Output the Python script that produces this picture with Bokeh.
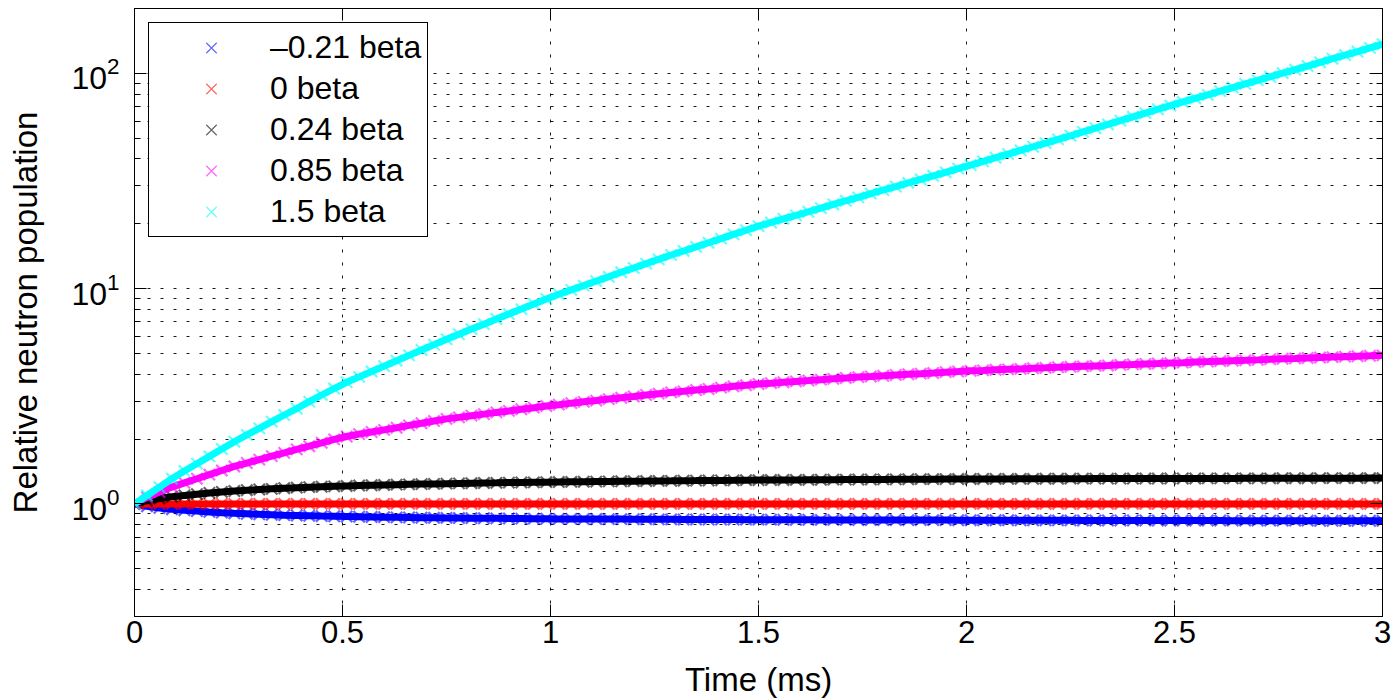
from bokeh.plotting import figure
from bokeh.models import (FixedTicker, LinearAxis, LogAxis, CustomJSTickFormatter,
                          Legend, LegendItem, LogTickFormatter, CustomLabelingPolicy)
from bokeh.embed import file_html
from bokeh.resources import INLINE

# ---------------- data ----------------
time_ms = [
    0.00, 0.03, 0.06, 0.09, 0.12, 0.15, 0.18, 0.21, 0.24, 0.27,
    0.30, 0.33, 0.36, 0.39, 0.42, 0.45, 0.48, 0.51, 0.54, 0.57,
    0.60, 0.63, 0.66, 0.69, 0.72, 0.75, 0.78, 0.81, 0.84, 0.87,
    0.90, 0.93, 0.96, 0.99, 1.02, 1.05, 1.08, 1.11, 1.14, 1.17,
    1.20, 1.23, 1.26, 1.29, 1.32, 1.35, 1.38, 1.41, 1.44, 1.47,
    1.50, 1.53, 1.56, 1.59, 1.62, 1.65, 1.68, 1.71, 1.74, 1.77,
    1.80, 1.83, 1.86, 1.89, 1.92, 1.95, 1.98, 2.01, 2.04, 2.07,
    2.10, 2.13, 2.16, 2.19, 2.22, 2.25, 2.28, 2.31, 2.34, 2.37,
    2.40, 2.43, 2.46, 2.49, 2.52, 2.55, 2.58, 2.61, 2.64, 2.67,
    2.70, 2.73, 2.76, 2.79, 2.82, 2.85, 2.88, 2.91, 2.94, 2.97,
    3.00,
]

pop_m021 = [
    1.000, 0.975, 0.958, 0.945, 0.935, 0.926, 0.918, 0.911, 0.905, 0.900,
    0.895, 0.891, 0.887, 0.884, 0.881, 0.878, 0.876, 0.874, 0.872, 0.870,
    0.868, 0.866, 0.865, 0.863, 0.862, 0.861, 0.860, 0.859, 0.858, 0.857,
    0.856, 0.855, 0.854, 0.853, 0.852, 0.852, 0.851, 0.851, 0.850, 0.850,
    0.849, 0.849, 0.848, 0.848, 0.847, 0.847, 0.846, 0.846, 0.846, 0.845,
    0.845, 0.845, 0.844, 0.844, 0.844, 0.843, 0.843, 0.843, 0.842, 0.842,
    0.842, 0.842, 0.841, 0.841, 0.841, 0.841, 0.840, 0.840, 0.840, 0.840,
    0.840, 0.839, 0.839, 0.839, 0.839, 0.839, 0.838, 0.838, 0.838, 0.838,
    0.838, 0.838, 0.837, 0.837, 0.837, 0.837, 0.837, 0.837, 0.836, 0.836,
    0.836, 0.836, 0.836, 0.836, 0.836, 0.835, 0.835, 0.835, 0.835, 0.835,
    0.835,
]

pop_0 = [
    1.0, 1.0, 1.0, 1.0, 1.0, 1.0, 1.0, 1.0, 1.0, 1.0,
    1.0, 1.0, 1.0, 1.0, 1.0, 1.0, 1.0, 1.0, 1.0, 1.0,
    1.0, 1.0, 1.0, 1.0, 1.0, 1.0, 1.0, 1.0, 1.0, 1.0,
    1.0, 1.0, 1.0, 1.0, 1.0, 1.0, 1.0, 1.0, 1.0, 1.0,
    1.0, 1.0, 1.0, 1.0, 1.0, 1.0, 1.0, 1.0, 1.0, 1.0,
    1.0, 1.0, 1.0, 1.0, 1.0, 1.0, 1.0, 1.0, 1.0, 1.0,
    1.0, 1.0, 1.0, 1.0, 1.0, 1.0, 1.0, 1.0, 1.0, 1.0,
    1.0, 1.0, 1.0, 1.0, 1.0, 1.0, 1.0, 1.0, 1.0, 1.0,
    1.0, 1.0, 1.0, 1.0, 1.0, 1.0, 1.0, 1.0, 1.0, 1.0,
    1.0, 1.0, 1.0, 1.0, 1.0, 1.0, 1.0, 1.0, 1.0, 1.0,
    1.0,
]

pop_024 = [
    1.000, 1.035, 1.060, 1.080, 1.095, 1.110, 1.125, 1.137, 1.148, 1.158,
    1.167, 1.175, 1.183, 1.190, 1.196, 1.202, 1.207, 1.212, 1.217, 1.221,
    1.225, 1.229, 1.233, 1.236, 1.239, 1.242, 1.245, 1.248, 1.251, 1.253,
    1.256, 1.258, 1.260, 1.262, 1.264, 1.266, 1.268, 1.270, 1.272, 1.274,
    1.276, 1.277, 1.279, 1.280, 1.282, 1.283, 1.285, 1.286, 1.287, 1.289,
    1.290, 1.291, 1.292, 1.293, 1.294, 1.295, 1.296, 1.297, 1.298, 1.299,
    1.300, 1.301, 1.302, 1.303, 1.303, 1.304, 1.305, 1.306, 1.306, 1.307,
    1.307, 1.308, 1.308, 1.309, 1.309, 1.310, 1.310, 1.311, 1.311, 1.311,
    1.312, 1.312, 1.312, 1.313, 1.313, 1.313, 1.314, 1.314, 1.314, 1.315,
    1.315, 1.315, 1.316, 1.316, 1.316, 1.317, 1.317, 1.317, 1.317, 1.318,
    1.318,
]

pop_085 = [
    1.000, 1.072, 1.135, 1.197, 1.253, 1.309, 1.368, 1.429, 1.493, 1.549,
    1.607, 1.667, 1.726, 1.791, 1.854, 1.923, 1.995, 2.056, 2.109, 2.158,
    2.208, 2.259, 2.317, 2.371, 2.427, 2.483, 2.523, 2.570, 2.612, 2.661,
    2.704, 2.754, 2.799, 2.851, 2.891, 2.938, 2.979, 3.020, 3.069, 3.112,
    3.155, 3.206, 3.251, 3.296, 3.334, 3.381, 3.420, 3.467, 3.516, 3.556,
    3.606, 3.639, 3.673, 3.707, 3.741, 3.776, 3.811, 3.846, 3.882, 3.908,
    3.936, 3.972, 4.000, 4.027, 4.055, 4.093, 4.121, 4.150, 4.169, 4.198,
    4.217, 4.236, 4.266, 4.285, 4.315, 4.335, 4.355, 4.375, 4.395, 4.426,
    4.446, 4.467, 4.487, 4.508, 4.529, 4.560, 4.581, 4.603, 4.624, 4.645,
    4.667, 4.699, 4.721, 4.742, 4.764, 4.786, 4.808, 4.831, 4.853, 4.875,
    4.898,
]

pop_15 = [
    1.000, 1.094, 1.197, 1.309, 1.422, 1.538, 1.663, 1.799, 1.945, 2.094,
    2.244, 2.410, 2.588, 2.773, 2.985, 3.206, 3.436, 3.673, 3.890, 4.121,
    4.365, 4.624, 4.898, 5.188, 5.495, 5.821, 6.138, 6.486, 6.839, 7.228,
    7.621, 8.035, 8.492, 8.954, 9.419, 9.863, 10.33, 10.84, 11.35, 11.91,
    12.47, 13.06, 13.68, 14.32, 14.96, 15.63, 16.33, 17.06, 17.86, 18.66,
    19.50, 20.28, 21.09, 21.88, 22.75, 23.66, 24.60, 25.59, 26.55, 27.61,
    28.71, 29.79, 30.97, 32.14, 33.42, 34.67, 36.06, 37.50, 38.99, 40.55,
    42.17, 43.85, 45.60, 47.42, 49.32, 51.29, 53.46, 55.59, 57.94, 60.26,
    62.81, 65.31, 68.08, 70.79, 73.62, 76.56, 79.43, 82.60, 85.90, 89.33,
    92.68, 96.38, 100.2, 104.0, 108.1, 112.5, 116.9, 121.6, 126.2, 131.2,
    136.5,
]

series_labels = ["\u20130.21 beta", "0 beta", "0.24 beta", "0.85 beta", "1.5 beta"]
series_values = [pop_m021, pop_0, pop_024, pop_085, pop_15]
series_colors = ["#0000ff", "#ff0000", "#000000", "#ff00ff", "#00ffff"]

x_tick_values = [0, 0.5, 1, 1.5, 2, 2.5, 3]
y_major_ticks = [1, 10, 100]
y_minor_ticks = [0.3, 0.4, 0.5, 0.6, 0.7, 0.8, 0.9,
                 2, 3, 4, 5, 6, 7, 8, 9,
                 20, 30, 40, 50, 60, 70, 80, 90, 200]

FONT = "Liberation Sans"

p = figure(width=1400, height=700, x_range=(0, 3), y_range=(0.3, 200),
           y_axis_type="log", output_backend="svg", toolbar_location=None,
           min_border_left=134, min_border_right=18, min_border_top=8,
           min_border_bottom=82)
p.background_fill_color = "white"
p.border_fill_color = "white"
p.outline_line_color = "black"
p.outline_line_width = 1

xt = FixedTicker(ticks=x_tick_values)
yt = FixedTicker(ticks=y_major_ticks, minor_ticks=y_minor_ticks)

xa = p.xaxis[0]
ya = p.yaxis[0]
xa.ticker = xt
ya.ticker = yt
xa.formatter = CustomJSTickFormatter(code="return tick.toString();")
ya.formatter = LogTickFormatter()

for ax in (xa, ya):
    ax.major_label_text_font = FONT
    ax.major_label_text_color = "black"
    ax.axis_label_text_font = FONT
    ax.axis_label_text_font_size = "33px"
    ax.axis_label_text_font_style = "normal"
    ax.axis_label_text_color = "black"
    ax.axis_line_color = "black"
    ax.major_tick_line_color = "black"
    ax.minor_tick_line_color = "black"
    ax.major_tick_in = 12
    ax.major_tick_out = 0
    ax.minor_tick_out = 0

xa.major_label_text_font_size = "31px"
ya.major_label_text_font_size = "32px"
xa.minor_tick_in = 0
ya.minor_tick_in = 6
xa.axis_label = "Time (ms)"
ya.axis_label = "Relative neutron population"
xa.major_label_standoff = 4
xa.axis_label_standoff = 15
ya.major_label_standoff = 15
ya.axis_label_standoff = 24

# mirrored axes (top / right): ticks only, no labels
no_labels = "for (const i of [...indices]) { indices.unset(i) }"
top = LinearAxis(ticker=xt, major_tick_in=12, major_tick_out=0, minor_tick_in=0,
                 minor_tick_out=0, major_label_standoff=0,
                 major_label_text_font_size="1px",
                 major_label_policy=CustomLabelingPolicy(code=no_labels),
                 axis_line_color="black", major_tick_line_color="black")
right = LogAxis(ticker=yt, major_tick_in=12, major_tick_out=0, minor_tick_in=6,
                minor_tick_out=0, major_label_standoff=0,
                major_label_text_font_size="1px",
                major_label_policy=CustomLabelingPolicy(code=no_labels),
                axis_line_color="black", major_tick_line_color="black",
                minor_tick_line_color="black")
p.add_layout(top, "above")
p.add_layout(right, "right")

for g in (p.xgrid[0], p.ygrid[0]):
    g.grid_line_color = "black"
    g.grid_line_dash = "3 10"
    g.grid_line_width = 1
    g.grid_line_alpha = 0.9
p.ygrid[0].minor_grid_line_color = "black"
p.ygrid[0].minor_grid_line_dash = "3 10"
p.ygrid[0].minor_grid_line_alpha = 0.9

# thin legend swatches (the reference legend shows light, thin crosses);
# drawn first at the first data point so they stay hidden under the data
legend_proxies = []
for vals, col in zip(series_values, series_colors):
    legend_proxies.append(p.scatter(time_ms[:1], vals[:1], marker="x", size=13,
                                    line_color=col, line_width=1.2, line_alpha=0.6))

# data: dense crosses forming a solid band
for vals, col in zip(series_values, series_colors):
    p.line(time_ms, vals, line_color=col, line_width=7, line_alpha=1.0)
    p.scatter(time_ms, vals, marker="x", size=16, line_color=col,
              line_width=2.2, line_alpha=0.6)

legend = Legend(
    items=[LegendItem(label=lab, renderers=[r]) for lab, r in zip(series_labels, legend_proxies)],
    location="top_left", margin=14, padding=6, spacing=4,
    glyph_width=112, glyph_height=37, label_height=37, label_standoff=3,
    label_text_font=FONT, label_text_font_size="32px", label_text_color="black",
    border_line_color="black", border_line_width=1, border_line_alpha=1,
    background_fill_color="white", background_fill_alpha=1,
)
p.add_layout(legend)

open("out.html", "w").write(file_html(p, INLINE))
